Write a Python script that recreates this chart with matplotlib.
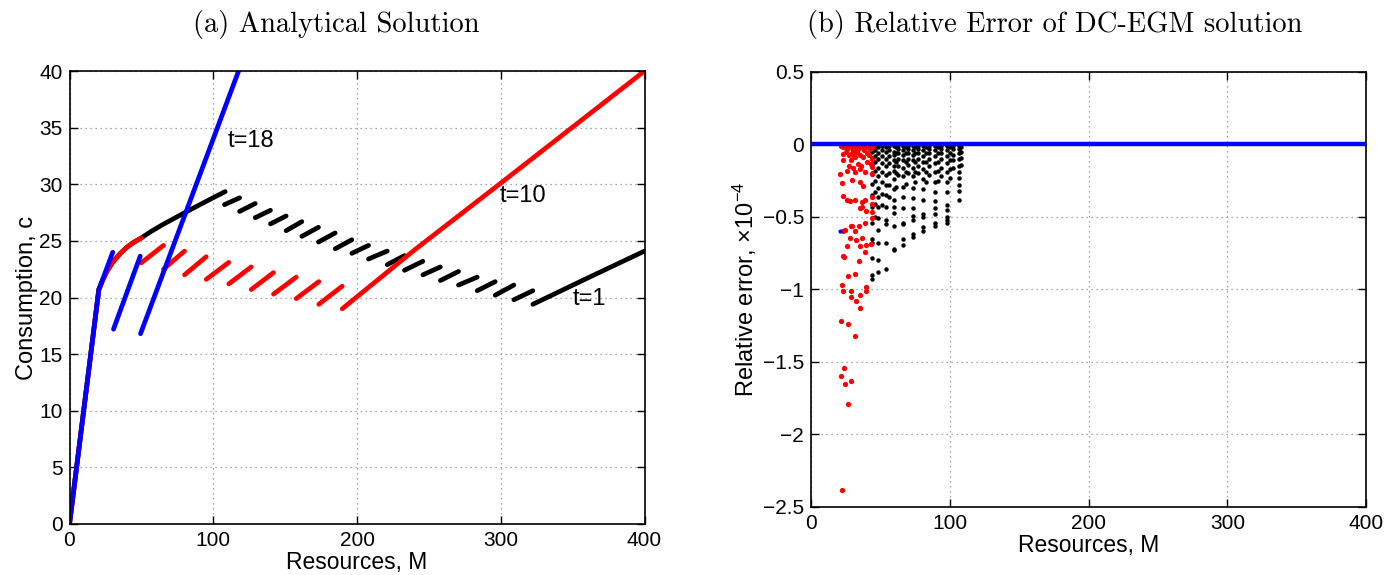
import matplotlib
matplotlib.use("Agg")
import matplotlib.pyplot as plt

plt.rcParams['font.family'] = ['Liberation Sans', 'DejaVu Sans']
plt.rcParams['mathtext.fontset'] = 'custom'
plt.rcParams['mathtext.rm'] = 'Liberation Sans'
plt.rcParams['mathtext.it'] = 'Liberation Sans:italic'

# ---- panel (a): analytical consumption functions ----
# common start (liquidity constrained part) and smooth part, t=10 / t=1
start_M = [0, 20.4, 23, 26, 30, 35, 40, 45, 49.8]
start_c = [0, 20.7, 21.5, 22.3, 23.1, 23.85, 24.45, 24.9, 25.25]

t1_curve_M = [49.8, 57, 65, 73, 81, 90, 99, 108.3]
t1_curve_c = [25.25, 25.85, 26.45, 27.0, 27.55, 28.15, 28.75, 29.35]

# t=1 short segments between discontinuities
t1_seg_M = [107.8, 118.3, 129.2, 139.8, 150.7, 161.6, 173.2, 184.8, 196.4,
            208.0, 221.0, 233.0, 245.8, 258.0, 270.6, 283.6, 296.1, 309.1, 322.3]
t1_seg_lo = [28.2, 27.6, 27.05, 26.5, 25.9, 25.4, 24.9, 24.3, 23.9,
             23.4, 22.9, 22.4, 22.0, 21.5, 21.1, 20.6, 20.2, 19.8]
t1_seg_hi = [28.8, 28.3, 27.7, 27.2, 26.7, 26.2, 25.7, 25.1, 24.6,
             24.1, 23.7, 23.2, 22.7, 22.3, 21.8, 21.4, 21.1, 20.6]
t1_last_M = [322.3, 361.7, 400]
t1_last_c = [19.4, 21.8, 24.1]

# t=10
t10_seg_M = [49.8, 65.4, 80.0, 95.1, 110.8, 126.4, 141.9, 157.7, 173.4, 189.7]
t10_seg_lo = [23.05, 22.5, 22.0, 21.6, 21.2, 20.7, 20.3, 19.9, 19.4]
t10_seg_hi = [24.6, 24.1, 23.6, 23.1, 22.7, 22.2, 21.8, 21.4, 21.0]
t10_last_M = [189.7, 240, 300, 400]
t10_last_c = [19.0, 24.2, 30.1, 40.0]

# t=18
t18_M = [[0, 20.4, 30.1], [30.6, 49.2], [49.4, 118.5]]
t18_c = [[0, 20.7, 24.0], [17.2, 23.65], [16.8, 40.3]]

# ---- panel (b): relative errors (x 1e-4) ----
red_M = [21.5, 23, 24.5, 26, 27.5, 29, 30.5, 32, 33.5, 35, 36.5, 38, 39.5, 41, 42.5, 44,
         22.8, 25, 27, 29.5, 31, 33, 35.5, 37.7, 40, 42, 43.7,
         23.3, 28.6, 31.7, 34.1, 27.6, 30.5, 36, 40.1, 43.2,
         20.9, 25.7, 31.7, 35.3, 38.9, 43.7,
         22, 29.3, 35.3, 37.7, 43.7,
         23.3, 25.7, 28.1, 31.7, 36.5, 38.9, 43.7, 43.7,
         36.5, 39.4, 35.3, 43.7, 43.7, 38.9,
         29.3, 34.8, 28.8, 24.5, 23.3, 31.7, 28.1, 32.2, 36.5,
         25.7, 35.3, 39.4, 43.2, 38.9, 23.3, 23.8, 34.8, 26.4, 31.7,
         22.1, 22.8, 28.6, 28.8, 35.3, 39.4, 39.4, 32.2, 35.3, 21.4, 26.4, 31.9,
         24.0, 21.4, 24.3, 28.8, 26.4, 22.6]
red_err = [-0.01, -0.02, -0.01, -0.03, -0.01, -0.02, -0.04, -0.01, -0.03, -0.02, -0.01, -0.04, -0.02, -0.01, -0.03, -0.02,
           -0.064, -0.05, -0.07, -0.06, -0.08, -0.05, -0.07, -0.083, -0.06, -0.075, -0.099,
           -0.106, -0.11, -0.087, -0.133, -0.145, -0.161, -0.145, -0.122, -0.133,
           -0.202, -0.186, -0.191, -0.168, -0.191, -0.156,
           -0.267, -0.248, -0.26, -0.283, -0.202,
           -0.352, -0.386, -0.393, -0.386, -0.397, -0.386, -0.363, -0.409,
           -0.432, -0.462, -0.439, -0.467, -0.506, -0.54,
           -0.559, -0.563, -0.563, -0.593, -0.60, -0.60, -0.644, -0.662, -0.644,
           -0.697, -0.697, -0.69, -0.685, -0.743, -0.772, -0.777, -0.807, -0.91, -0.894,
           -0.97, -1.01, -1.01, -1.05, -1.04, -0.98, -1.01, -1.08, -1.13, -1.22, -1.24, -1.32,
           -1.54, -1.60, -1.65, -1.63, -1.79, -2.38]

# black points, one list per column of grid points
black_col_M = [43.7, 46.0, 48.5, 51.0, 54.0, 56.5, 59.5, 61.2, 63.0, 66.5, 68.2, 70.0,
               73.5, 75.2, 77.0, 81.0, 83.0, 85.0, 89.5, 91.5, 93.5, 98.0, 100.0, 102.0, 106.5, 108.0]
black_col_err = [
    [-0.02, -0.05, -0.09, -0.14, -0.2, -0.27, -0.35, -0.43, -0.54, -0.65, -0.68, -0.78, -0.90, -0.93],
    [-0.01, -0.04, -0.08, -0.12, -0.18, -0.25, -0.33, -0.41, -0.5],
    [-0.02, -0.06, -0.1, -0.16, -0.22, -0.3, -0.36, -0.43, -0.51, -0.59, -0.68, -0.80, -0.88],
    [-0.01, -0.04, -0.08, -0.13, -0.19, -0.26, -0.34, -0.42],
    [-0.02, -0.05, -0.1, -0.15, -0.21, -0.28, -0.35, -0.43, -0.52, -0.55, -0.68, -0.86],
    [-0.01, -0.04, -0.08, -0.13, -0.2, -0.28, -0.36],
    [-0.01, -0.05, -0.07, -0.11, -0.15, -0.18, -0.24, -0.31, -0.38, -0.43, -0.47, -0.56, -0.72, -0.73],
    [-0.02, -0.06, -0.12, -0.2, -0.29],
    [-0.01, -0.03, -0.06, -0.1, -0.15, -0.21],
    [-0.01, -0.04, -0.07, -0.11, -0.16, -0.22, -0.29, -0.36, -0.44, -0.54, -0.55, -0.65, -0.69],
    [-0.02, -0.06, -0.12, -0.19, -0.27],
    [-0.01, -0.03, -0.06, -0.1, -0.14, -0.2],
    [-0.01, -0.04, -0.07, -0.11, -0.16, -0.22, -0.3, -0.37, -0.44, -0.49, -0.52, -0.62, -0.64],
    [-0.02, -0.06, -0.12, -0.19, -0.26],
    [-0.01, -0.03, -0.06, -0.1, -0.15, -0.2],
    [-0.01, -0.04, -0.08, -0.12, -0.17, -0.24, -0.31, -0.38, -0.48, -0.5, -0.57, -0.6],
    [-0.02, -0.06, -0.12, -0.19, -0.26],
    [-0.01, -0.03, -0.06, -0.1, -0.15, -0.21],
    [-0.01, -0.04, -0.08, -0.13, -0.19, -0.26, -0.33, -0.39, -0.44, -0.48, -0.54, -0.56],
    [-0.02, -0.06, -0.12, -0.18, -0.25],
    [-0.01, -0.03, -0.06, -0.1, -0.16, -0.22],
    [-0.01, -0.04, -0.08, -0.13, -0.19, -0.26, -0.33, -0.42, -0.455, -0.5, -0.52, -0.54],
    [-0.02, -0.06, -0.11, -0.17, -0.23],
    [-0.01, -0.03, -0.07, -0.11, -0.16],
    [-0.01, -0.03, -0.06, -0.1, -0.15, -0.19, -0.23, -0.28, -0.32, -0.38],
    [-0.02, -0.05, -0.09, -0.14],
]
blue_pt_M = [20.9]
blue_pt_err = [-0.6]

fig = plt.figure(figsize=(13.9, 5.75), dpi=100)
ax1 = fig.add_axes([0.0500, 0.0887, 0.4137, 0.7878])
ax2 = fig.add_axes([0.5835, 0.1183, 0.3993, 0.7565])

lw = 3.4
# black (t=1) under red (t=10) under blue (t=18)
ax1.plot(start_M + t1_curve_M[1:], start_c + t1_curve_c[1:], color='k', lw=lw, solid_capstyle='round')
for i in range(len(t1_seg_lo)):
    ax1.plot([t1_seg_M[i], t1_seg_M[i + 1]], [t1_seg_lo[i], t1_seg_hi[i]], color='k', lw=lw,
             solid_capstyle='round')
ax1.plot(t1_last_M, t1_last_c, color='k', lw=lw, solid_capstyle='round')

ax1.plot(start_M, start_c, color='r', lw=lw, solid_capstyle='round')
for i in range(len(t10_seg_lo)):
    ax1.plot([t10_seg_M[i], t10_seg_M[i + 1]], [t10_seg_lo[i], t10_seg_hi[i]], color='r', lw=lw,
             solid_capstyle='round')
ax1.plot(t10_last_M, t10_last_c, color='r', lw=lw, solid_capstyle='round')

for xs, ys in zip(t18_M, t18_c):
    ax1.plot(xs, ys, color='b', lw=lw, solid_capstyle='round')

ax1.text(110, 33.8, 't=18', fontsize=17, va='center')
ax1.text(299, 29.0, 't=10', fontsize=17, va='center')
ax1.text(350, 19.9, 't=1', fontsize=17, va='center')

ax1.set_xlim(0, 400)
ax1.set_ylim(0, 40)
ax1.set_xticks([0, 100, 200, 300, 400])
ax1.set_yticks(range(0, 41, 5))
ax1.set_xlabel('Resources, M', fontsize=16.5, labelpad=1)
ax1.set_ylabel('Consumption, c', fontsize=17, labelpad=1)

# panel (b)
ax2.plot([0, 400], [0, 0], color='b', lw=3.2, zorder=4)
for x, col in zip(black_col_M, black_col_err):
    ax2.plot([x] * len(col), col, 'o', color='k', ms=3.2, mec='none', zorder=2)
ax2.plot(red_M, red_err, 'o', color='r', ms=3.8, mec='none', zorder=3)
ax2.plot(blue_pt_M, blue_pt_err, 'o', color='b', ms=3.0, mec='none', zorder=3)

ax2.set_xlim(0, 400)
ax2.set_ylim(-2.5, 0.5)
ax2.set_xticks([0, 100, 200, 300, 400])
ax2.set_yticks([0.5, 0, -0.5, -1, -1.5, -2, -2.5])
ax2.set_yticklabels(['0.5', '0', '\u22120.5', '\u22121', '\u22121.5', '\u22122', '\u22122.5'])
ax2.set_xlabel('Resources, M', fontsize=16.5, labelpad=1)
ax2.set_ylabel('Relative error, $\\times10^{-4}$', fontsize=17, labelpad=3)

for ax in (ax1, ax2):
    ax.grid(True, color='0.55', linestyle=(0, (1, 3)), lw=0.9)
    ax.tick_params(direction='in', top=True, right=True, length=6, width=1, labelsize=15, pad=5)
    for s in ax.spines.values():
        s.set_linewidth(1.2)

fig.text(0.2420, 0.957, '(a) Analytical Solution', family='cmr10', fontsize=20.5,
         ha='center', va='center')
fig.text(0.7585, 0.957, '(b) Relative Error of DC-EGM solution', family='cmr10', fontsize=20.5,
         ha='center', va='center')

fig.savefig('out.png', dpi=100)
